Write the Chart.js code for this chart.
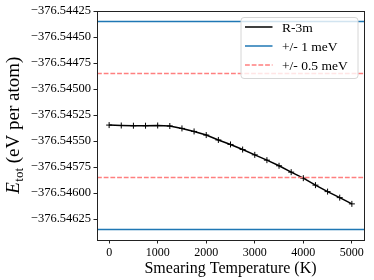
<!DOCTYPE html>
<html>
<head>
<meta charset="utf-8">
<script src="https://cdn.jsdelivr.net/npm/chart.js@4"></script>
<style>
  body { margin: 0; background: #fff; }
  canvas { display: block; }
</style>
</head>
<body>
<canvas id="chart" width="374" height="280"></canvas>
<script>
// smearing temperature (K) and total energy (eV per atom)
const temps = [0, 250, 500, 750, 1000, 1250, 1500, 1750, 2000, 2250, 2500,
  2750, 3000, 3250, 3500, 3750, 4000, 4250, 4500, 4750, 5000];
const energies = [-376.545346, -376.545350, -376.545352, -376.545352, -376.545350,
  -376.545355, -376.545378, -376.545407, -376.545442, -376.545489, -376.545532,
  -376.545581, -376.545632, -376.545683, -376.545737, -376.545798, -376.545856,
  -376.545923, -376.545985, -376.546043, -376.546103];

const refEnergy = -376.54535;
const band1 = 0.001;   // 1 meV
const band05 = 0.0005; // 0.5 meV

const xRange = [-250, 5250];
const yRange = [-376.54645, -376.54425];
const xTickValues = [0, 1000, 2000, 3000, 4000, 5000];
const yTickValues = [-376.54625, -376.54600, -376.54575, -376.54550, -376.54525,
  -376.54500, -376.54475, -376.54450, -376.54425];

const serif = "'Liberation Serif', 'Times New Roman', serif";
const blue = "#1f77b4";
const red = "#ff7f7f";

function hline(y) {
  return [{ x: xRange[0], y: y }, { x: xRange[1], y: y }];
}

const lineData = temps.map((t, i) => ({ x: t, y: energies[i] }));

// box round the axes, matplotlib style
const framePlugin = {
  id: "frame",
  afterDatasetsDraw(chart) {
    const { ctx, chartArea: a } = chart;
    ctx.save();
    ctx.strokeStyle = "#222";
    ctx.lineWidth = 1;
    ctx.strokeRect(Math.round(a.left) + 0.5, Math.round(a.top) + 0.5,
      Math.round(a.right - a.left), Math.round(a.bottom - a.top));
    ctx.restore();
  },
};

// y axis title with a subscript
const yTitlePlugin = {
  id: "yTitle",
  afterDraw(chart) {
    const { ctx, chartArea: a } = chart;
    const big = "19px " + serif;
    const small = "13px " + serif;
    const rest = " (eV per atom)";
    ctx.save();
    ctx.font = "italic " + big;
    const wE = ctx.measureText("E").width;
    ctx.font = small;
    const wSub = ctx.measureText("tot").width;
    ctx.font = big;
    const wRest = ctx.measureText(rest).width;
    const total = wE + wSub + wRest;
    ctx.translate(19, (a.top + a.bottom) / 2);
    ctx.rotate(-Math.PI / 2);
    ctx.fillStyle = "#000";
    ctx.textBaseline = "alphabetic";
    let x = -total / 2;
    ctx.font = "italic " + big;
    ctx.fillText("E", x, 0);
    x += wE + 0.5;
    ctx.font = small;
    ctx.fillText("tot", x, 4);
    x += wSub;
    ctx.font = big;
    ctx.fillText(rest, x, 0);
    ctx.restore();
  },
};

// legend inside the axes, upper right
const legendPlugin = {
  id: "insetLegend",
  afterDraw(chart) {
    const { ctx, chartArea: a } = chart;
    const items = chart.data.datasets
      .filter((d) => d.legendRank !== undefined)
      .sort((p, q) => p.legendRank - q.legendRank);
    const w = 117, h = 61;
    const x0 = a.right - 6.5 - w;
    const y0 = a.top + 6;
    ctx.save();
    ctx.beginPath();
    ctx.roundRect(x0 + 0.5, y0 + 0.5, w, h, 3);
    ctx.fillStyle = "rgba(255,255,255,0.8)";
    ctx.fill();
    ctx.strokeStyle = "#d6d6d6";
    ctx.lineWidth = 1;
    ctx.stroke();
    ctx.font = "13.5px " + serif;
    ctx.textBaseline = "middle";
    items.forEach((d, i) => {
      const yy = y0 + 10 + i * 19;
      ctx.beginPath();
      ctx.strokeStyle = d.borderColor;
      ctx.lineWidth = d.borderWidth;
      ctx.setLineDash(d.borderDash || []);
      ctx.moveTo(x0 + 4.5, yy);
      ctx.lineTo(x0 + 32, yy);
      ctx.stroke();
      ctx.setLineDash([]);
      ctx.fillStyle = "#000";
      ctx.fillText(d.label, x0 + 41.5, yy + 1);
    });
    ctx.restore();
  },
};

new Chart(document.getElementById("chart"), {
  type: "scatter",
  data: {
    datasets: [
      {
        label: "+/- 1 meV",
        legendRank: 1,
        data: hline(refEnergy + band1),
        showLine: true,
        borderColor: blue,
        backgroundColor: blue,
        borderWidth: 1.5,
        pointRadius: 0,
        order: 1,
      },
      {
        label: "+/- 1 meV",
        data: hline(refEnergy - band1),
        showLine: true,
        borderColor: blue,
        backgroundColor: blue,
        borderWidth: 1.5,
        pointRadius: 0,
        order: 1,
      },
      {
        label: "+/- 0.5 meV",
        legendRank: 2,
        data: hline(refEnergy + band05),
        showLine: true,
        borderColor: red,
        backgroundColor: red,
        borderWidth: 1.5,
        borderDash: [4.8, 1.9],
        pointRadius: 0,
        order: 1,
      },
      {
        label: "+/- 0.5 meV",
        data: hline(refEnergy - band05),
        showLine: true,
        borderColor: red,
        backgroundColor: red,
        borderWidth: 1.5,
        borderDash: [4.8, 1.9],
        pointRadius: 0,
        order: 1,
      },
      {
        label: "R-3m",
        legendRank: 0,
        data: lineData,
        showLine: true,
        borderColor: "#000",
        backgroundColor: "#000",
        borderWidth: 1.5,
        pointStyle: "cross",
        pointRadius: 3,
        pointBorderWidth: 1,
        pointBorderColor: "#000",
        order: 2,
      },
    ],
  },
  options: {
    responsive: false,
    animation: false,
    layout: { padding: { top: 11, right: 10, left: 0, bottom: 0 } },
    plugins: {
      legend: { display: false },
      tooltip: { enabled: false },
    },
    scales: {
      x: {
        type: "linear",
        min: xRange[0],
        max: xRange[1],
        afterBuildTicks: (scale) => {
          scale.ticks = xTickValues.map((v) => ({ value: v }));
        },
        afterFit: (scale) => {
          scale.height = 40;
        },
        grid: {
          drawOnChartArea: false,
          drawTicks: true,
          tickLength: 3.5,
          color: "#222",
        },
        border: { color: "#222", width: 1 },
        ticks: {
          color: "#000",
          font: { family: serif, size: 12 },
          padding: 2,
          maxRotation: 0,
          callback: (v) => String(v),
        },
        title: {
          display: true,
          text: "Smearing Temperature (K)",
          color: "#000",
          font: { family: serif, size: 16 },
          padding: { top: 0, bottom: 2 },
        },
      },
      y: {
        type: "linear",
        min: yRange[0],
        max: yRange[1],
        afterBuildTicks: (scale) => {
          scale.ticks = yTickValues.map((v) => ({ value: v }));
        },
        afterFit: (scale) => {
          scale.width = 97;
        },
        grid: {
          drawOnChartArea: false,
          drawTicks: true,
          tickLength: 3.5,
          color: "#222",
        },
        border: { color: "#222", width: 1 },
        ticks: {
          color: "#000",
          font: { family: serif, size: 12.5 },
          padding: 2.5,
          callback: (v) => v.toFixed(5).replace("-", "\u2212"),
        },
      },
    },
  },
  plugins: [framePlugin, yTitlePlugin, legendPlugin],
});
</script>
</body>
</html>
